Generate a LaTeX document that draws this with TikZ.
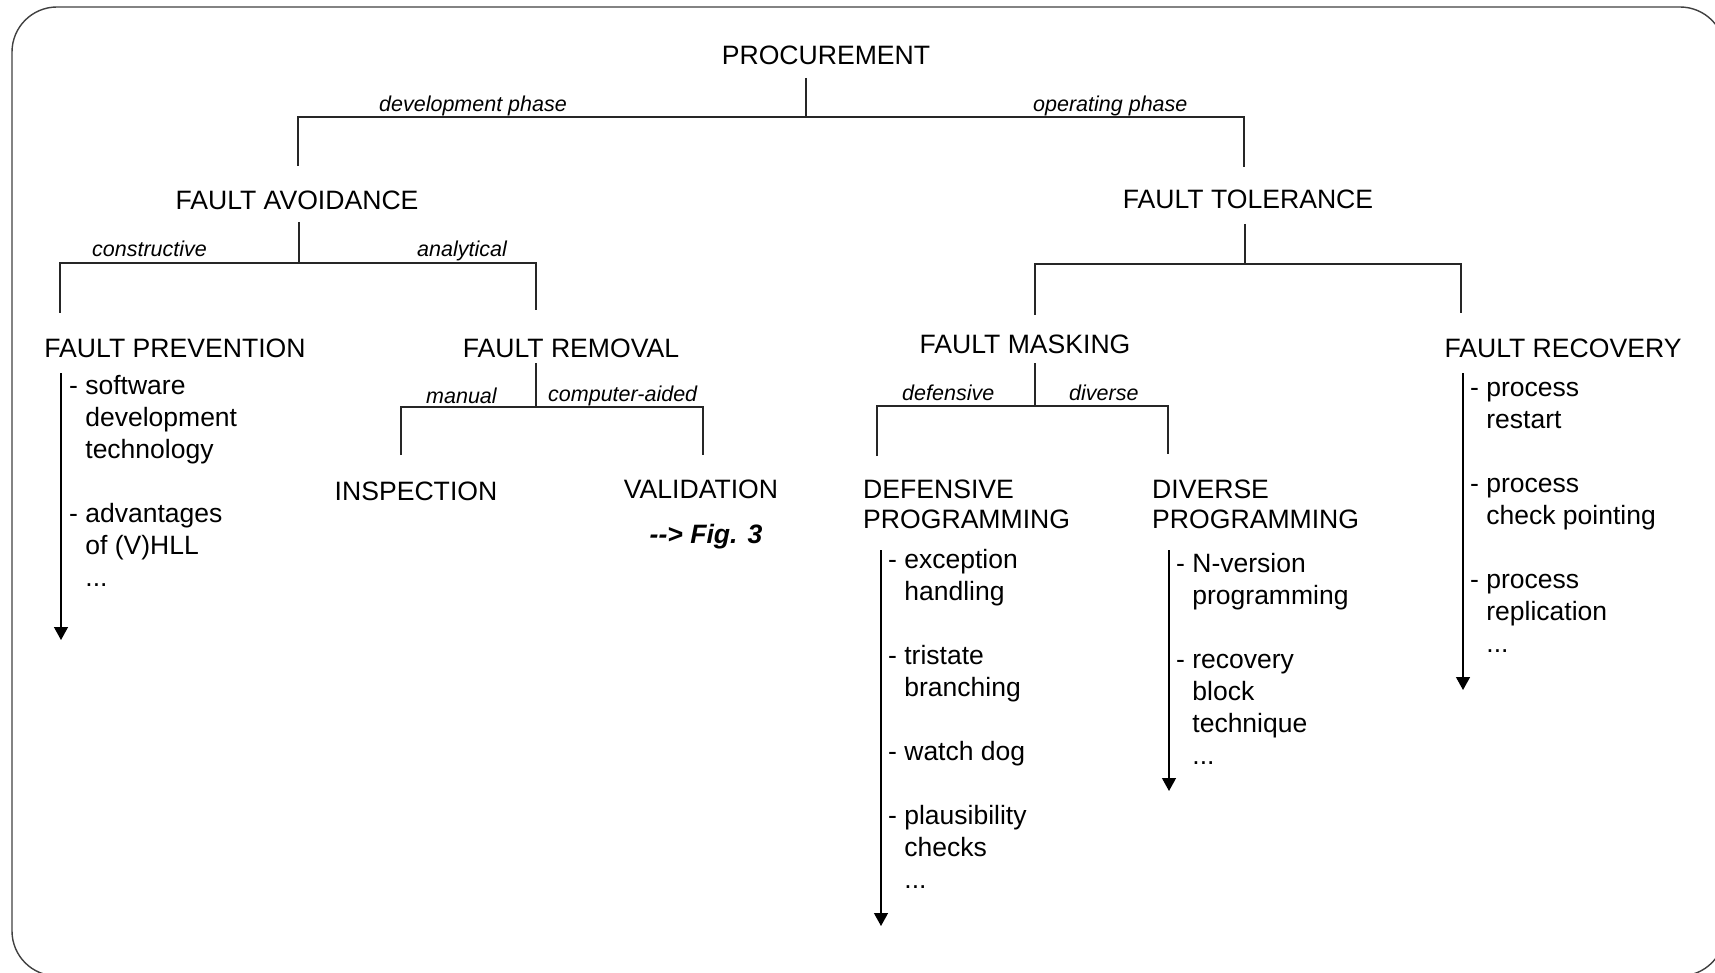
\documentclass[tikz,border=0pt]{standalone}
\usepackage{fontspec}
\setmainfont{Liberation Sans}[Ligatures=TeXOff]
\usetikzlibrary{arrows.meta}
\begin{document}
\begin{tikzpicture}[x=1pt,y=-1pt,
  frame/.style={draw=black!75, line width=1.4pt, rounded corners=45pt},
  tree/.style={draw=black!85, line width=1.3pt},
  flow/.style={draw=black, line width=1.3pt, -{Triangle[width=14pt,length=13pt]}},
  head/.style={font=\fontsize{26.6}{30}\selectfont, inner sep=0pt, anchor=base},
  twoline/.style={font=\fontsize{26.6}{30}\selectfont, inner sep=0pt, anchor=north west, align=left},
  branch/.style={font=\fontsize{21.5}{25}\selectfont\itshape, inner sep=0pt, anchor=base west},
  items/.style={font=\fontsize{26.5}{32}\selectfont, inner sep=0pt, anchor=north west, align=left},
]
\useasboundingbox (0,0) rectangle (1715,973);
\clip (0,0) rectangle (1715,973);

% outer rounded frame (runs past the right and bottom edges)
\draw[frame] (12,7) rectangle (1725,976);

% ---------- headings ----------
\node[head] (proc)  at (826,65)  {PROCUREMENT};
\node[head] (avoid) at (297,210) {FAULT AVOIDANCE};
\node[head] (toler) at (1248,209) {FAULT TOLERANCE};
\node[head] (prev)  at (175,357) {FAULT PREVENTION};
\node[head] (remov) at (571,357) {FAULT REMOVAL};
\node[head] (mask)  at (1025,353) {FAULT MASKING};
\node[head] (recov) at (1563,357) {FAULT RECOVERY};
\node[head] (insp)  at (416,500) {INSPECTION};
\node[head] (valid) at (701,498) {VALIDATION};
\node[head, font=\fontsize{26.6}{30}\selectfont\bfseries\itshape] (fig) at (706,543) {--> Fig. 3};
\node[twoline] (defp) at (863,477)  {\strut DEFENSIVE\\PROGRAMMING};
\node[twoline] (divp) at (1152,477) {\strut DIVERSE\\PROGRAMMING};

% ---------- branch labels ----------
\node[branch] (ldev)  at (379,112)  {development phase};
\node[branch] (lop)   at (1033,112) {operating phase};
\node[branch] (lcon)  at (92,257)   {constructive};
\node[branch] (lana)  at (417,257)  {analytical};
\node[branch] (lman)  at (426,403)  {manual};
\node[branch] (lcomp) at (548,401)  {computer-aided};
\node[branch] (ldef)  at (902,400)  {defensive};
\node[branch] (ldiv)  at (1069,400) {diverse};

% ---------- tree connectors ----------
\coordinate (pS) at (806,78);   \coordinate (pJ) at (806,117);
\coordinate (aT) at (298,166);  \coordinate (tT) at (1244,167);
\draw[tree] (pS) -- (pJ);
\draw[tree] (aT) |- (pJ) -| (tT);

\coordinate (aS) at (299,222);  \coordinate (aJ) at (299,263);
\coordinate (pvT) at (60,313);  \coordinate (rmT) at (536,310);
\draw[tree] (aS) -- (aJ);
\draw[tree] (pvT) |- (aJ) -| (rmT);

\coordinate (tS) at (1245,224); \coordinate (tJ) at (1245,264);
\coordinate (mkT) at (1035,315); \coordinate (rcT) at (1461,313);
\draw[tree] (tS) -- (tJ);
\draw[tree] (mkT) |- (tJ) -| (rcT);

\coordinate (rS) at (536,363);  \coordinate (rJ) at (536,407);
\coordinate (inT) at (401,455); \coordinate (vaT) at (703,455);
\draw[tree] (rS) -- (rJ);
\draw[tree] (inT) |- (rJ) -| (vaT);

\coordinate (mS) at (1035,363); \coordinate (mJ) at (1035,406);
\coordinate (dfT) at (877,456); \coordinate (dvT) at (1168,454);
\draw[tree] (mS) -- (mJ);
\draw[tree] (dfT) |- (mJ) -| (dvT);

% ---------- item lists with their arrows ----------
\node[items] (prevlist) at (69,371.6) {\strut- software\\\hphantom{- }development\\\hphantom{- }technology\\[32pt]- advantages\\\hphantom{- }of (V)HLL\\\hphantom{- }...};
\node[items] (deflist) at (888,546) {\strut- exception\\\hphantom{- }handling\\[32pt]- tristate\\\hphantom{- }branching\\[32pt]- watch dog\\[32pt]- plausibility\\\hphantom{- }checks\\\hphantom{- }...};
\node[items] (divlist) at (1176,550) {\strut- N-version\\\hphantom{- }programming\\[32pt]- recovery\\\hphantom{- }block\\\hphantom{- }technique\\\hphantom{- }...};
\node[items] (reclist) at (1470,373.5) {\strut- process\\\hphantom{- }restart\\[32pt]- process\\\hphantom{- }check pointing\\[32pt]- process\\\hphantom{- }replication\\\hphantom{- }...};

\coordinate (prevA) at (61,373);  \coordinate (prevB) at (61,640);
\coordinate (defA) at (881,550);  \coordinate (defB) at (881,926);
\coordinate (divA) at (1169,550); \coordinate (divB) at (1169,791);
\coordinate (recA) at (1463,373); \coordinate (recB) at (1463,690);
\draw[flow] (prevA) -- (prevB);
\draw[flow] (defA) -- (defB);
\draw[flow] (divA) -- (divB);
\draw[flow] (recA) -- (recB);
\end{tikzpicture}
\end{document}
